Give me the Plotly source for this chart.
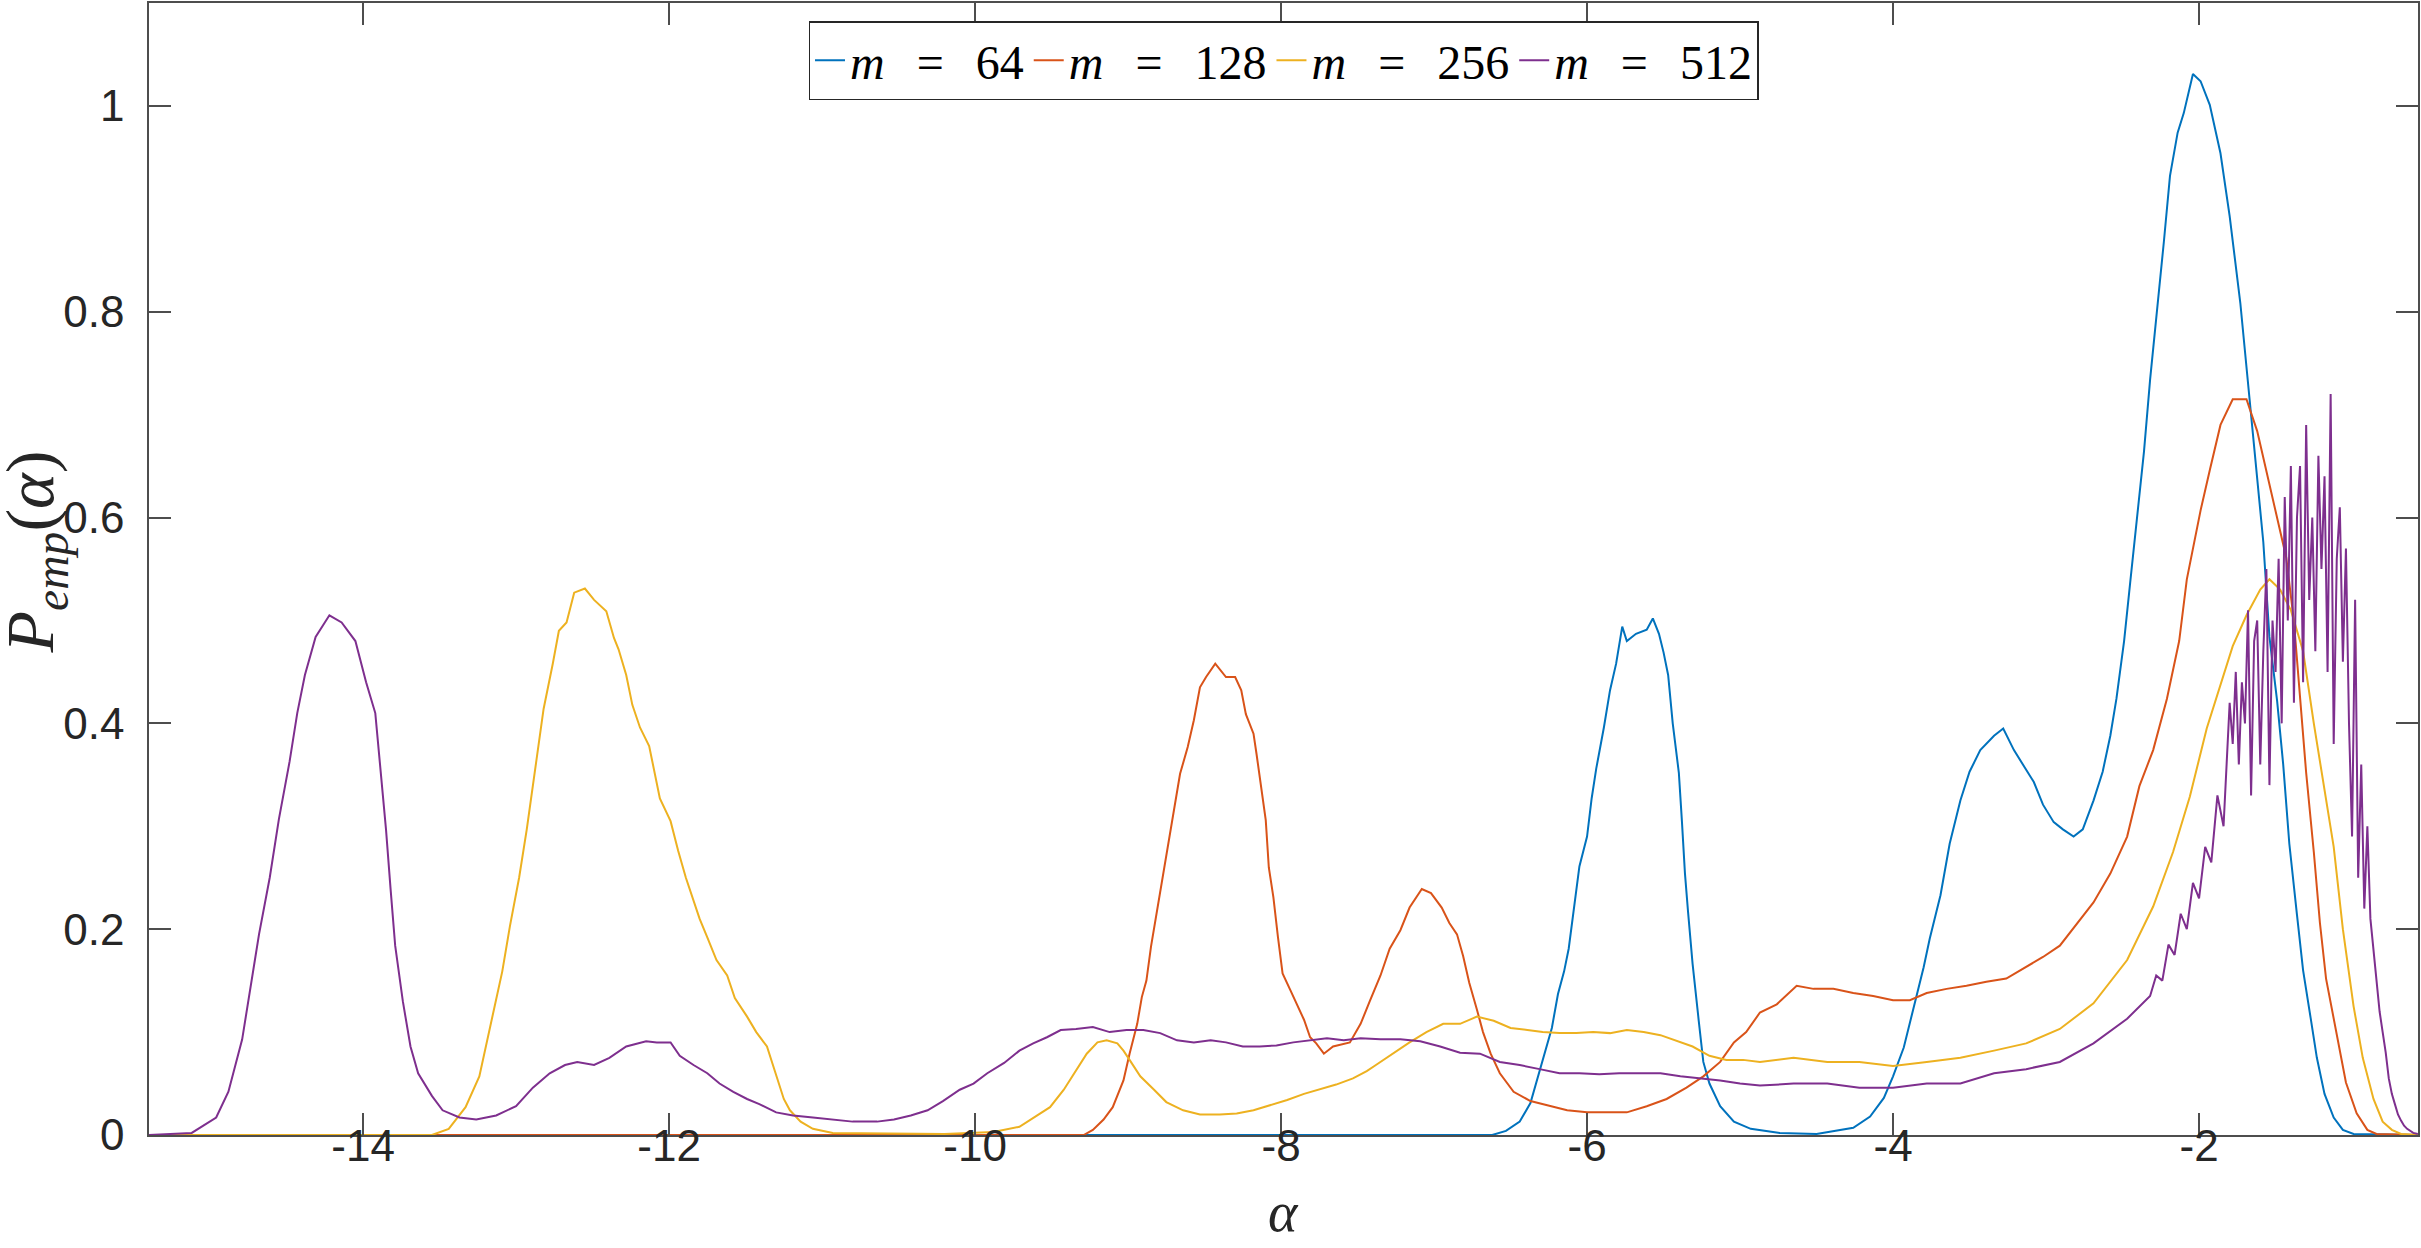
import plotly.graph_objects as go

alpha_64 = [
    -15.40, -6.62, -6.53, -6.44, -6.37, -6.32, -6.28, -6.23, -6.19, -6.15,
    -6.12, -6.09, -6.05, -6.00, -5.97, -5.94, -5.89, -5.85, -5.81, -5.77,
    -5.74, -5.68, -5.61, -5.57, -5.53, -5.50, -5.47, -5.44, -5.40, -5.38,
    -5.36, -5.34, -5.31, -5.27, -5.24, -5.20, -5.13, -5.04, -4.93, -4.74,
    -4.50, -4.26, -4.15, -4.06, -4.00, -3.93, -3.87, -3.80, -3.76, -3.69,
    -3.63, -3.56, -3.50, -3.43, -3.34, -3.28, -3.21, -3.15, -3.08, -3.02,
    -2.95, -2.89, -2.82, -2.76, -2.69, -2.63, -2.58, -2.54, -2.49, -2.45,
    -2.41, -2.36, -2.32, -2.28, -2.23, -2.19, -2.14, -2.10, -2.04, -1.99,
    -1.93, -1.86, -1.80, -1.73, -1.69, -1.64, -1.58, -1.54, -1.49, -1.45,
    -1.41, -1.36, -1.32, -1.27, -1.23, -1.18, -1.12, -1.06, -0.99, -0.57,
]
p_64 = [
    0, 0, 0.004, 0.013, 0.031, 0.057, 0.079, 0.104, 0.137, 0.159,
    0.181, 0.214, 0.261, 0.290, 0.327, 0.356, 0.396, 0.432, 0.458, 0.494,
    0.480, 0.487, 0.491, 0.502, 0.487, 0.469, 0.447, 0.400, 0.352, 0.305,
    0.254, 0.217, 0.166, 0.111, 0.071, 0.050, 0.028, 0.013, 0.006, 0.002,
    0.001, 0.007, 0.018, 0.036, 0.057, 0.085, 0.120, 0.163, 0.191, 0.233,
    0.283, 0.325, 0.353, 0.374, 0.388, 0.395, 0.374, 0.360, 0.343, 0.321,
    0.304, 0.297, 0.290, 0.297, 0.325, 0.353, 0.388, 0.424, 0.480, 0.537,
    0.593, 0.664, 0.734, 0.791, 0.868, 0.932, 0.974, 0.993, 1.031, 1.024,
    1.001, 0.954, 0.893, 0.808, 0.746, 0.669, 0.576, 0.484, 0.422, 0.360,
    0.283, 0.214, 0.160, 0.113, 0.075, 0.040, 0.017, 0.005, 0.001, 0,
]

alpha_128 = [
    -15.40, -9.29, -9.23, -9.16, -9.10, -9.03, -8.99, -8.94, -8.91, -8.88,
    -8.85, -8.81, -8.78, -8.75, -8.70, -8.66, -8.61, -8.57, -8.53, -8.49,
    -8.43, -8.36, -8.30, -8.26, -8.23, -8.18, -8.16, -8.13, -8.10, -8.08,
    -8.05, -8.02, -7.99, -7.94, -7.90, -7.85, -7.81, -7.77, -7.72, -7.66,
    -7.55, -7.48, -7.42, -7.35, -7.29, -7.22, -7.16, -7.08, -7.02, -6.95,
    -6.90, -6.85, -6.81, -6.77, -6.72, -6.68, -6.63, -6.57, -6.48, -6.37,
    -6.26, -6.13, -6.00, -5.87, -5.74, -5.61, -5.48, -5.35, -5.24, -5.13,
    -5.04, -4.96, -4.87, -4.76, -4.63, -4.52, -4.39, -4.26, -4.13, -4.00,
    -3.89, -3.78, -3.65, -3.52, -3.39, -3.26, -3.13, -3.02, -2.91, -2.80,
    -2.69, -2.58, -2.47, -2.39, -2.30, -2.21, -2.13, -2.08, -1.99, -1.93,
    -1.86, -1.78, -1.69, -1.62, -1.56, -1.49, -1.43, -1.38, -1.34, -1.30,
    -1.25, -1.21, -1.17, -1.10, -1.04, -0.97, -0.90, -0.84, -0.57,
]
p_128 = [
    0, 0, 0.005, 0.015, 0.027, 0.053, 0.079, 0.108, 0.134, 0.150,
    0.183, 0.218, 0.247, 0.273, 0.318, 0.351, 0.377, 0.403, 0.435, 0.445,
    0.458, 0.445, 0.445, 0.432, 0.409, 0.390, 0.370, 0.338, 0.306, 0.260,
    0.231, 0.192, 0.157, 0.141, 0.128, 0.112, 0.095, 0.089, 0.079, 0.086,
    0.090, 0.108, 0.130, 0.155, 0.181, 0.199, 0.221, 0.239, 0.235, 0.221,
    0.206, 0.195, 0.174, 0.148, 0.122, 0.100, 0.079, 0.060, 0.042, 0.033,
    0.029, 0.024, 0.022, 0.022, 0.022, 0.028, 0.035, 0.046, 0.057, 0.071,
    0.090, 0.100, 0.119, 0.127, 0.145, 0.142, 0.142, 0.138, 0.135, 0.131,
    0.131, 0.138, 0.142, 0.145, 0.149, 0.152, 0.163, 0.173, 0.184, 0.205,
    0.226, 0.254, 0.290, 0.339, 0.374, 0.424, 0.480, 0.540, 0.607, 0.646,
    0.690, 0.715, 0.715, 0.684, 0.646, 0.599, 0.561, 0.499, 0.422, 0.352,
    0.275, 0.206, 0.152, 0.098, 0.051, 0.021, 0.005, 0.001, 0,
]

alpha_256 = [
    -15.40, -13.55, -13.44, -13.33, -13.24, -13.16, -13.09, -13.04, -12.98, -12.93,
    -12.87, -12.82, -12.76, -12.72, -12.67, -12.62, -12.55, -12.49, -12.41, -12.36,
    -12.33, -12.28, -12.24, -12.19, -12.13, -12.10, -12.06, -11.99, -11.94, -11.89,
    -11.84, -11.80, -11.75, -11.69, -11.62, -11.57, -11.49, -11.43, -11.36, -11.30,
    -11.25, -11.21, -11.14, -11.06, -10.93, -10.20, -9.88, -9.71, -9.60, -9.51,
    -9.42, -9.34, -9.27, -9.20, -9.14, -9.07, -9.03, -8.99, -8.92, -8.83,
    -8.75, -8.64, -8.53, -8.40, -8.29, -8.18, -8.07, -7.96, -7.85, -7.75,
    -7.64, -7.53, -7.44, -7.38, -7.27, -7.16, -7.05, -6.94, -6.83, -6.72,
    -6.61, -6.50, -6.39, -6.29, -6.18, -6.07, -5.96, -5.85, -5.74, -5.63,
    -5.52, -5.41, -5.31, -5.20, -5.09, -4.98, -4.87, -4.65, -4.43, -4.22,
    -4.00, -3.78, -3.56, -3.34, -3.13, -2.91, -2.69, -2.47, -2.30, -2.17,
    -2.06, -1.95, -1.86, -1.78, -1.69, -1.60, -1.54, -1.47, -1.40, -1.32,
    -1.25, -1.19, -1.12, -1.06, -0.99, -0.93, -0.86, -0.80, -0.74, -0.68,
    -0.57,
]
p_256 = [
    0, 0, 0.006, 0.027, 0.057, 0.111, 0.159, 0.203, 0.250, 0.297,
    0.363, 0.414, 0.458, 0.490, 0.498, 0.527, 0.531, 0.520, 0.509, 0.483,
    0.472, 0.447, 0.418, 0.396, 0.378, 0.356, 0.327, 0.305, 0.276, 0.250,
    0.228, 0.210, 0.192, 0.170, 0.155, 0.133, 0.115, 0.100, 0.086, 0.057,
    0.035, 0.024, 0.013, 0.006, 0.002, 0.001, 0.003, 0.008, 0.018, 0.027,
    0.044, 0.063, 0.079, 0.090, 0.092, 0.089, 0.082, 0.073, 0.057, 0.044,
    0.032, 0.024, 0.020, 0.020, 0.021, 0.024, 0.029, 0.034, 0.040, 0.044,
    0.049, 0.055, 0.062, 0.068, 0.079, 0.090, 0.100, 0.108, 0.108, 0.115,
    0.111, 0.104, 0.102, 0.100, 0.099, 0.099, 0.100, 0.099, 0.102, 0.100,
    0.097, 0.091, 0.086, 0.077, 0.073, 0.073, 0.071, 0.075, 0.071, 0.071,
    0.067, 0.071, 0.075, 0.082, 0.089, 0.103, 0.128, 0.170, 0.222, 0.275,
    0.329, 0.395, 0.437, 0.475, 0.505, 0.530, 0.540, 0.530, 0.510, 0.470,
    0.400, 0.345, 0.280, 0.200, 0.125, 0.075, 0.035, 0.013, 0.005, 0.001,
    0,
]

alpha_512 = [
    -15.40, -15.12, -14.96, -14.88, -14.79, -14.75, -14.68, -14.61, -14.55, -14.48,
    -14.43, -14.38, -14.31, -14.22, -14.14, -14.05, -13.98, -13.92, -13.89, -13.85,
    -13.82, -13.79, -13.74, -13.69, -13.64, -13.55, -13.48, -13.37, -13.26, -13.13,
    -13.00, -12.89, -12.78, -12.68, -12.60, -12.49, -12.39, -12.28, -12.15, -12.08,
    -11.99, -11.93, -11.84, -11.75, -11.67, -11.58, -11.49, -11.41, -11.30, -11.19,
    -11.06, -10.93, -10.80, -10.64, -10.53, -10.42, -10.31, -10.21, -10.10, -10.01,
    -9.92, -9.81, -9.71, -9.62, -9.53, -9.44, -9.34, -9.23, -9.12, -9.01,
    -8.90, -8.79, -8.68, -8.57, -8.46, -8.36, -8.25, -8.14, -8.03, -7.92,
    -7.81, -7.70, -7.59, -7.48, -7.35, -7.22, -7.09, -6.96, -6.83, -6.70,
    -6.57, -6.44, -6.31, -6.18, -6.05, -5.92, -5.79, -5.65, -5.52, -5.39,
    -5.26, -5.13, -5.00, -4.87, -4.65, -4.43, -4.22, -4.00, -3.78, -3.56,
    -3.34, -3.13, -2.91, -2.69, -2.47, -2.32, -2.28, -2.24, -2.20, -2.16,
    -2.12, -2.08, -2.04, -2.00, -1.96, -1.92, -1.88, -1.84, -1.80, -1.78,
    -1.76, -1.74, -1.72, -1.70, -1.68, -1.66, -1.64, -1.62, -1.60, -1.58,
    -1.56, -1.54, -1.52, -1.50, -1.48, -1.46, -1.44, -1.42, -1.40, -1.38,
    -1.36, -1.34, -1.32, -1.30, -1.28, -1.26, -1.24, -1.22, -1.20, -1.18,
    -1.16, -1.14, -1.12, -1.10, -1.08, -1.06, -1.04, -1.02, -1.00, -0.98,
    -0.96, -0.94, -0.92, -0.90, -0.88, -0.86, -0.84, -0.82, -0.80, -0.78,
    -0.76, -0.74, -0.72, -0.70, -0.68, -0.66, -0.64, -0.62, -0.60, -0.57,
]
p_512 = [
    0, 0.002, 0.017, 0.042, 0.093, 0.130, 0.195, 0.250, 0.307, 0.363,
    0.410, 0.447, 0.484, 0.505, 0.498, 0.480, 0.440, 0.410, 0.363, 0.297,
    0.239, 0.184, 0.130, 0.086, 0.060, 0.038, 0.024, 0.017, 0.015, 0.019,
    0.028, 0.046, 0.060, 0.068, 0.071, 0.068, 0.075, 0.086, 0.091, 0.090,
    0.090, 0.077, 0.068, 0.060, 0.050, 0.042, 0.035, 0.030, 0.022, 0.019,
    0.017, 0.015, 0.013, 0.013, 0.015, 0.019, 0.024, 0.033, 0.044, 0.050,
    0.060, 0.070, 0.082, 0.089, 0.095, 0.102, 0.103, 0.105, 0.100, 0.102,
    0.102, 0.099, 0.092, 0.090, 0.092, 0.090, 0.086, 0.086, 0.087, 0.090,
    0.092, 0.094, 0.092, 0.094, 0.093, 0.093, 0.091, 0.086, 0.080, 0.079,
    0.071, 0.068, 0.064, 0.060, 0.060, 0.059, 0.060, 0.060, 0.060, 0.057,
    0.055, 0.053, 0.050, 0.048, 0.050, 0.050, 0.046, 0.046, 0.050, 0.050,
    0.060, 0.064, 0.071, 0.089, 0.113, 0.135, 0.155, 0.150, 0.185, 0.175,
    0.215, 0.200, 0.245, 0.230, 0.280, 0.265, 0.330, 0.300, 0.420, 0.380,
    0.450, 0.360, 0.440, 0.400, 0.510, 0.330, 0.480, 0.500, 0.360, 0.470,
    0.550, 0.340, 0.500, 0.450, 0.560, 0.400, 0.620, 0.500, 0.650, 0.420,
    0.600, 0.650, 0.440, 0.690, 0.520, 0.600, 0.470, 0.660, 0.550, 0.640,
    0.450, 0.720, 0.380, 0.560, 0.610, 0.460, 0.570, 0.400, 0.290, 0.520,
    0.250, 0.360, 0.220, 0.300, 0.210, 0.180, 0.150, 0.120, 0.100, 0.080,
    0.055, 0.040, 0.030, 0.020, 0.014, 0.009, 0.006, 0.004, 0.002, 0.001,
]

GAP = "\u2002\u2006"
series_names = [f"<i>m</i>{GAP}={GAP}64", f"<i>m</i>{GAP}={GAP}128",
                f"<i>m</i>{GAP}={GAP}256", f"<i>m</i>{GAP}={GAP}512"]
series_colors = ["#0072BD", "#D95319", "#EDB120", "#7E2F8E"]
# the last series (drawn on top) is bound to the twin alpha axis that carries the labels
series_xaxis = ["x", "x", "x", "x2"]

x_tick_vals = [-14, -12, -10, -8, -6, -4, -2]
x_tick_text = ["-14", "-12", "-10", "-8", "-6", "-4", "-2"]
y_tick_vals = [0, 0.2, 0.4, 0.6, 0.8, 1]
y_tick_text = ["0", "0.2", "0.4", "0.6", "0.8", "1"]
x_range = [-15.399, -0.569]
y_range = [0, 1.1]

# ---- figure ----
fig = go.Figure()
for xs, ys, name, color, xa in zip(
    [alpha_64, alpha_128, alpha_256, alpha_512],
    [p_64, p_128, p_256, p_512],
    series_names, series_colors, series_xaxis,
):
    fig.add_trace(go.Scatter(x=xs, y=ys, mode="lines", name=name, xaxis=xa, yaxis="y",
                             line=dict(color=color, width=2)))

axis_color = "#4d4d4d"
tick_font = dict(family="Liberation Sans, Arial, sans-serif", size=44, color="#262626")

fig.update_layout(
    width=2421, height=1248,
    margin=dict(l=149, r=3, t=1, b=113),
    paper_bgcolor="white", plot_bgcolor="white",
    # main alpha axis: frame line and inward tick marks
    xaxis=dict(
        range=x_range, tickvals=x_tick_vals, showticklabels=False,
        ticks="inside", ticklen=22, tickwidth=1.5, tickcolor=axis_color,
        showline=True, linecolor=axis_color, linewidth=1.5, mirror="ticks",
        showgrid=False, zeroline=False,
    ),
    # twin alpha axis with the identical range, carrying the tick labels
    xaxis2=dict(
        overlaying="x", anchor="free", position=0.017, side="bottom",
        range=x_range, tickvals=x_tick_vals, ticktext=x_tick_text,
        ticks="", showline=False, showgrid=False, zeroline=False,
        tickfont=tick_font,
    ),
    yaxis=dict(
        range=y_range, tickvals=y_tick_vals, ticktext=y_tick_text,
        ticks="inside", ticklen=22, tickwidth=1.5, tickcolor=axis_color,
        showline=True, linecolor=axis_color, linewidth=1.5, mirror="ticks",
        showgrid=False, zeroline=False, tickfont=tick_font, ticklabelstandoff=14,
    ),
    legend=dict(
        orientation="h", x=0.5, xanchor="center", y=0.984, yanchor="top",
        bgcolor="white", bordercolor="#262626", borderwidth=1.5,
        font=dict(family="Liberation Serif, serif", size=48, color="black"),
    ),
    annotations=[
        dict(text="<i>P</i><sub><i>emp</i></sub>(<i>α</i>)", xref="paper", yref="paper",
             x=-0.0505, y=0.515, xanchor="center", yanchor="middle", textangle=-90,
             showarrow=False,
             font=dict(family="Liberation Serif, serif", size=68, color="#262626")),
        dict(text="<i>α</i>", xref="paper", yref="paper",
             x=0.5, y=-0.068, xanchor="center", yanchor="middle",
             showarrow=False,
             font=dict(family="Liberation Serif, serif", size=56, color="#262626")),
    ],
)

fig.write_html("out.html", config={"displayModeBar": False})
